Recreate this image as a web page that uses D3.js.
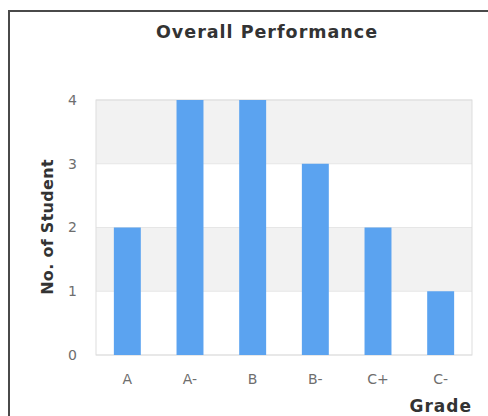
<!DOCTYPE html>
<html>
<head>
<meta charset="utf-8">
<script src="https://d3js.org/d3.v7.min.js"></script>
<style>
  body { margin: 0; background: #fff; }
  text { font-family: "DejaVu Sans", Verdana, sans-serif; }
</style>
</head>
<body>
<div id="chart"></div>
<script>
// data
const grades = ["A", "A-", "B", "B-", "C+", "C-"];
const students = [2, 4, 4, 3, 2, 1];
const yTicks = [0, 1, 2, 3, 4];

const width = 488, height = 416;
const plot = {left: 96, right: 472, top: 100, bottom: 355};

let svg = d3.select("#chart")
    .append("svg")
    .attr("width", width)
    .attr("height", height);

// frame
svg.append("rect")
    .attr("x", 9).attr("y", 11)
    .attr("width", 490).attr("height", 420)
    .attr("fill", "white")
    .attr("stroke", "#4a4a4a")
    .attr("stroke-width", 2);

let x = d3.scaleBand()
    .domain(grades)
    .range([plot.left, plot.right])
    .paddingInner(0.57)
    .paddingOuter(0.285);

let y = d3.scaleLinear()
    .domain([0, 4])
    .range([plot.bottom, plot.top]);

// alternating bands
let bands = d3.range(0, 4);
svg.append("g").selectAll("rect")
    .data(bands)
    .enter().append("rect")
    .attr("x", plot.left)
    .attr("width", plot.right - plot.left)
    .attr("y", d => y(d + 1))
    .attr("height", d => y(d) - y(d + 1))
    .attr("fill", d => d % 2 == 1 ? "#f2f2f2" : "#ffffff");

// gridlines
svg.append("g").selectAll("line")
    .data(yTicks)
    .enter().append("line")
    .attr("x1", plot.left).attr("x2", plot.right)
    .attr("y1", d => y(d)).attr("y2", d => y(d))
    .attr("stroke", "#e6e6e6");

svg.append("rect")
    .attr("x", plot.left).attr("y", plot.top)
    .attr("width", plot.right - plot.left)
    .attr("height", plot.bottom - plot.top)
    .attr("fill", "none")
    .attr("stroke", "#dddddd");

// bars
svg.append("g").selectAll("rect")
    .data(students)
    .enter().append("rect")
    .attr("x", (d, i) => x(grades[i]))
    .attr("width", x.bandwidth())
    .attr("y", d => y(d))
    .attr("height", d => y(0) - y(d))
    .attr("fill", "#5ba3f0");

// axes
let yAxis = d3.axisLeft(y).tickValues(yTicks).tickFormat(d3.format("d"))
    .tickSize(0).tickPadding(19);
let gy = svg.append("g")
    .attr("transform", "translate(" + plot.left + ",0)")
    .call(yAxis);
gy.select(".domain").remove();
gy.selectAll("text").attr("fill", "#6e6e6e").style("font-size", "14px");

let xAxis = d3.axisBottom(x).tickSize(0).tickPadding(19);
let gx = svg.append("g")
    .attr("transform", "translate(0," + plot.bottom + ")")
    .call(xAxis);
gx.select(".domain").remove();
gx.selectAll("text").attr("fill", "#6e6e6e").style("font-size", "14px");

// titles
svg.append("text")
    .attr("x", 267).attr("y", 38)
    .attr("text-anchor", "middle")
    .attr("fill", "#333")
    .style("font-size", "17.5px")
    .style("font-weight", "bold")
    .style("letter-spacing", "1px")
    .text("Overall Performance");

svg.append("text")
    .attr("x", 472).attr("y", 412)
    .attr("text-anchor", "end")
    .attr("fill", "#333")
    .style("font-size", "17px")
    .style("font-weight", "bold")
    .style("letter-spacing", "1px")
    .text("Grade");

svg.append("text")
    .attr("transform", "translate(53,227) rotate(-90)")
    .attr("text-anchor", "middle")
    .attr("fill", "#333")
    .style("font-size", "16px")
    .style("font-weight", "bold")
    .style("letter-spacing", "0.3px")
    .text("No. of Student");
</script>
</body>
</html>
